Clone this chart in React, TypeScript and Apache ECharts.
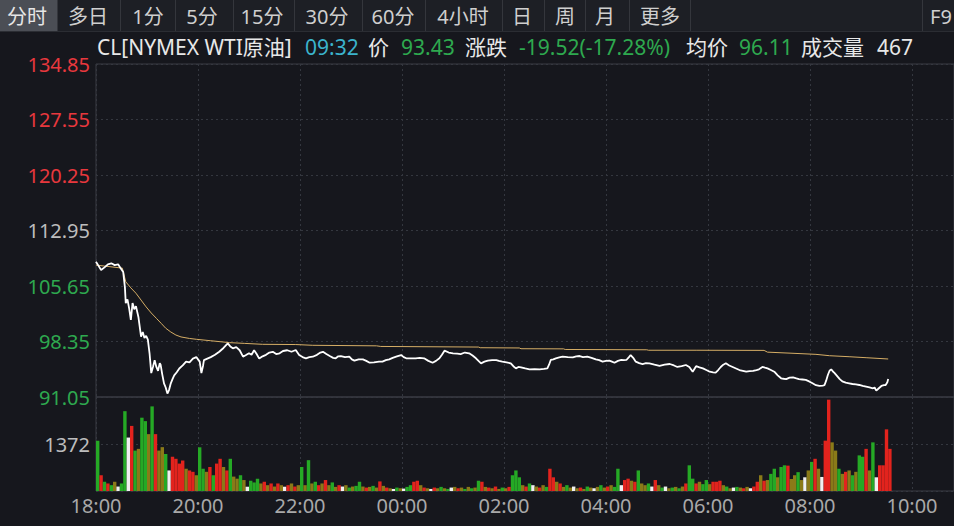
import React, { useEffect, useRef } from "react";
import * as echarts from "echarts";

// ---- data ----
// minutes after 18:00 for the last-price line
const priceMinutes = [
  0, 3, 6, 10, 14, 18, 22, 26, 29, 32, 34, 35, 37, 39, 41, 43, 45, 47, 50, 53, 55, 57, 59, 61, 63, 65, 67, 69, 71, 73,
  75, 76, 78, 80, 82, 84, 86, 88, 90, 92, 95, 98, 102, 106, 110, 114, 118, 120, 122, 124, 126, 127, 131, 135, 140, 145,
  150, 155, 158, 161, 165, 169, 173, 177, 180, 183, 186, 189, 192, 196, 200, 204, 208, 212, 216, 220, 225, 230, 235,
  239, 243, 247, 251, 255, 260, 264, 267, 271, 275, 279, 282, 285, 288, 293, 298, 301, 304, 309, 314, 318, 322, 327,
  333, 337, 341, 345, 349, 354, 359, 362, 365, 370, 376, 381, 386, 391, 396, 400, 404, 407, 410, 415, 420, 425, 429,
  434, 439, 443, 447, 450, 453, 457, 461, 466, 471, 474, 478, 483, 488, 491, 494, 497, 500, 505, 510, 516, 522, 527,
  531, 533, 535, 538, 541, 545, 549, 555, 561, 565, 569, 573, 578, 583, 588, 592, 596, 600, 604, 607, 610, 614, 618,
  621, 624, 627, 629, 632, 635, 639, 643, 647, 651, 657, 663, 669, 675, 680, 684, 689, 694, 698, 702, 706, 710, 714,
  718, 722, 726, 729, 732, 735, 738, 741, 745, 749, 753, 757, 761, 765, 769, 773, 777, 780, 784, 787, 790, 794, 798,
  802, 806, 809, 812, 816, 820, 824, 827, 831, 835, 839, 843, 847, 851, 855, 857, 859, 861, 863, 865, 867, 869, 872,
  875, 878, 882, 886, 890, 894, 898, 902, 906, 910, 914, 916, 918, 921, 924, 927, 929, 931, 932,
];
const prices = [
  108.85, 108.3, 107.75, 108.1, 108.5, 108.64, 108.4, 108.5, 108.0, 107.5, 105.5, 103.4, 103.9, 102.7, 101.2, 103.4,
  102.6, 103.0, 101.5, 98.98, 99.6, 98.8, 99.1, 98.6, 96.8, 94.2, 95.0, 95.9, 95.0, 94.5,
  95.5, 95.3, 94.0, 92.85, 92.3, 91.5, 92.0, 92.85, 93.4, 93.9, 94.3, 94.8, 95.2, 95.7, 95.6, 96.1, 96.3, 96.0, 95.7,
  94.2, 95.2, 95.9, 96.1, 96.3, 96.6, 97.0,
  97.5, 98.1, 97.7, 97.45, 97.6, 97.2, 96.35, 96.6, 96.8, 96.6, 97.2, 96.7, 96.1, 96.4, 96.6, 96.9, 97.0, 96.7, 96.8,
  97.1, 97.2, 97.0, 97.23,
  96.57, 96.3, 96.14, 96.3, 96.35, 96.6, 96.9, 97.0, 96.7, 96.44, 96.2, 96.14, 96.4, 96.44, 96.3, 96.35, 96.0, 95.83,
  96.0, 96.0, 95.8, 95.56, 95.6,
  95.7, 95.7, 95.9, 96.0, 96.2, 96.4, 96.57, 96.3, 96.14, 96.14, 96.14, 96.2, 96.14, 95.8, 95.56, 95.8, 96.14, 96.6,
  97.14, 96.9, 96.8, 96.75, 96.7,
  96.9, 96.8, 96.5, 96.14, 95.8, 95.48, 95.7, 95.83, 95.9, 95.9, 95.8, 95.7, 95.6, 95.48, 95.1, 94.82, 95.0, 94.95,
  94.8, 94.69, 94.7, 94.69, 94.75,
  94.82, 95.3, 95.92, 96.0, 96.14, 96.25, 96.35, 96.3, 96.27, 96.4, 96.44, 96.3, 96.35, 96.2, 96.0, 95.9, 95.7, 95.8,
  95.83, 95.7, 95.56, 95.8, 95.92,
  95.9, 95.92, 96.3, 96.57, 96.2, 95.7, 95.5, 95.39, 95.5, 95.48, 95.3, 95.13, 95.3, 95.39, 95.2, 95.0, 95.1, 95.26,
  95.0, 94.38, 95.1, 94.95, 94.82,
  94.6, 94.38, 94.3, 94.25, 94.6, 95.0, 95.3, 95.48, 95.2, 95.0, 94.8, 94.6, 94.5, 94.38, 94.45, 94.5, 94.6, 94.69,
  95.0, 94.9, 94.82, 94.6, 94.38,
  93.9, 93.51, 93.45, 93.4, 93.6, 93.64, 93.5, 93.4, 93.35, 93.3, 93.1, 92.85, 92.6, 92.5, 92.55, 92.6, 93.2, 93.94,
  94.5, 94.69, 94.4, 94.2, 93.8,
  93.4, 93.1, 92.93, 92.85, 92.76, 92.7, 92.63, 92.5, 92.4, 92.3, 92.2, 92.3, 91.88, 92.2, 92.5, 92.6, 92.63, 93.0,
  93.43,
];

// average price line
const avgMinutes = [
  0, 31, 35, 41, 47, 53, 59, 65, 71, 77, 82, 88, 94, 100, 110, 118, 135, 157, 175, 196, 235, 255, 330, 335, 450, 452,
  498, 500, 550, 552, 648, 650, 706, 786, 790, 820, 847, 863, 886, 906, 932,
];
const avgPrices = [
  108.4, 108.0, 106.2, 105.4, 104.7, 103.8, 102.9, 102.1, 101.4, 100.7, 100.1, 99.6, 99.2, 98.95, 98.75, 98.64, 98.45,
  98.2, 98.1, 97.98, 97.95, 97.85, 97.78, 97.7, 97.62, 97.53, 97.5, 97.4, 97.38, 97.3, 97.26, 97.2, 97.2, 97.18, 96.95,
  96.8, 96.66, 96.48, 96.35, 96.22, 96.05,
];

// volume per 4-minute bucket from 18:00, and bar direction (r up, g down, o mixed, w flat)
const volumeBucketMinutes = 4;
const volumes = [
  1467, 460, 270, 220, 170, 270, 130, 220, 2330, 1560,
  1900, 1180, 1230, 2140, 2040, 1660, 2470, 1660, 1180, 1280,
  1080, 600, 1000, 940, 800, 890, 650, 600, 560, 460,
  1275, 650, 560, 700, 460, 800, 940, 700, 600, 940,
  420, 360, 460, 320, 125, 300, 250, 360, 220, 270,
  170, 220, 130, 220, 170, 125, 170, 220, 130, 170,
  700, 170, 900, 220, 270, 170, 220, 320, 170, 250,
  120, 170, 130, 170, 100, 130, 150, 270, 130, 100,
  120, 150, 100, 280, 150, 100, 80, 60, 100, 80,
  70, 120, 170, 270, 300, 170, 100, 80, 60, 100,
  80, 120, 80, 60, 100, 120, 80, 100, 60, 120,
  80, 100, 300, 270, 120, 100, 80, 130, 60, 100,
  80, 120, 460, 600, 400, 170, 130, 220, 170, 130,
  100, 170, 120, 650, 400, 270, 220, 120, 170, 100,
  130, 80, 100, 60, 130, 100, 80, 120, 170, 100,
  130, 170, 120, 650, 170, 320, 360, 300, 270, 600,
  220, 170, 220, 130, 320, 170, 100, 130, 80, 100,
  120, 80, 130, 220, 750, 360, 220, 270, 200, 320,
  200, 270, 270, 300, 170, 130, 80, 100, 120, 100,
  80, 120, 80, 130, 270, 460, 300, 320, 500, 650,
  400, 700, 750, 740, 350, 460, 550, 320, 400, 600,
  850, 940, 650, 410, 1470, 2666, 1420, 1180, 650, 500,
  560, 600, 460, 560, 1040, 1000, 1230, 600, 1420, 400,
  750, 750, 1800, 1230,
];
const volumeDirs =
  "grgrgowggw" + "rgoggogroo" + "gwrrrrorro" + "ggorgrrorg" + "oogowgggor" +
  "ororowroro" + "gogogrorog" + "orwogoggor" + "ogororowgo" + "wggrrorowr" +
  "ogogworogo" + "gogrororog" + "orgggorgwo" + "rogrrorogo" + "worogowogo" +
  "roggwrrorg" + "oogwrogwog" + "ogorggrogg" + "orrrogowgo" + "rowrrorogg" +
  "oggroogowo" + "growrroogo" + "rogoggrogw" + "rrrr";

const priceTicks = [91.05, 98.35, 105.65, 112.95, 120.25, 127.55, 134.85];
const prevClose = 112.95;
const volumeMax = 2744;
const volumeTick = 1372;
const startMinuteOfDay = 18 * 60;

const tabs = ["分时", "多日", "1分", "5分", "15分", "30分", "60分", "4小时", "日", "周", "月", "更多"];
const tabCenters = [27, 88, 148, 202, 262, 327, 393, 463, 522, 565, 605, 660];
const tabSeparators = [57, 120, 175, 233, 294, 362, 425, 502, 544, 585, 629, 690, 922];

const FONT = '"Noto Sans", "Noto Sans CJK SC", sans-serif';
const RED = "#e8383d";
const GREEN = "#2ea94f";

function fmtTime(m: number) {
  const t = (startMinuteOfDay + Math.round(m)) % 1440;
  const h = Math.floor(t / 60);
  const mm = t % 60;
  return `${String(h).padStart(2, "0")}:${String(mm).padStart(2, "0")}`;
}

export default function App() {
  const ref = useRef<HTMLDivElement>(null);
  useEffect(() => {
    if (!ref.current) return;
    const chart = echarts.init(ref.current, undefined, { renderer: "svg" });
    const W = 954;
    const plotLeft = 96;
    const pxPerMin = 0.85;
    const xMax = (W - plotLeft) / pxPerMin;

    const barColors: Record<string, string> = { r: "#e2231d", g: "#25a925", o: "#8a7a18", w: "#f0f0f0" };
    const volData = volumes.map((v, i) => ({
      value: [i * volumeBucketMinutes + 2, v],
      itemStyle: { color: barColors[volumeDirs[i]] || barColors.o },
    }));

    const dotted = { color: "#34373f", width: 1, type: [2, 3] as any };

    const graphics: any[] = [
      { type: "rect", shape: { x: 0, y: 0, width: W, height: 31 }, style: { fill: "#1d1f25" }, silent: true },
      { type: "rect", shape: { x: 0, y: 0, width: 57, height: 31 }, style: { fill: "#4b4e55" }, silent: true },
      { type: "line", shape: { x1: 0, y1: 31.5, x2: W, y2: 31.5 }, style: { stroke: "#2b2d33", lineWidth: 1 } },
    ];
    tabSeparators.forEach((x) => {
      graphics.push({ type: "line", shape: { x1: x + 0.5, y1: 0, x2: x + 0.5, y2: 31 }, style: { stroke: "#34363c", lineWidth: 1 } });
    });
    tabs.forEach((t, i) => {
      graphics.push({
        type: "text",
        x: tabCenters[i],
        y: 16,
        style: { text: t, fill: i === 0 ? "#e6e6e6" : "#cfcfcf", font: `20px ${FONT}`, align: "center", verticalAlign: "middle" },
      });
    });
    graphics.push({
      type: "text",
      x: 941,
      y: 16,
      style: { text: "F9", fill: "#cfcfcf", font: `20px ${FONT}`, align: "center", verticalAlign: "middle" },
    });
    const info: [string, number, string][] = [
      ["CL[NYMEX WTI原油]", 97, "#e8e8e8"],
      ["09:32", 305, "#3bb3cc"],
      ["价", 368, "#e8e8e8"],
      ["93.43", 401, GREEN],
      ["涨跌", 465, "#e8e8e8"],
      ["-19.52(-17.28%)", 519, GREEN],
      ["均价", 686, "#e8e8e8"],
      ["96.11", 739, GREEN],
      ["成交量", 801, "#e8e8e8"],
      ["467", 877, "#e8e8e8"],
    ];
    info.forEach(([t, x, c]) => {
      graphics.push({
        type: "text",
        x,
        y: 47,
        style: { text: t, fill: c, font: `21px ${FONT}`, align: "left", verticalAlign: "middle" },
      });
    });

    chart.setOption({
      animation: false,
      backgroundColor: "#16171d",
      grid: [
        { left: plotLeft, top: 64, width: W - plotLeft, height: 333, show: true, borderColor: "#3b3d44", borderWidth: 1, backgroundColor: "transparent" },
        { left: plotLeft, top: 397, width: W - plotLeft, height: 94, show: true, borderColor: "#3b3d44", borderWidth: 1, backgroundColor: "transparent" },
      ],
      xAxis: [
        {
          type: "value", gridIndex: 0, min: 0, max: xMax, interval: 120,
          axisLine: { show: false }, axisTick: { show: false }, axisLabel: { show: false },
          splitLine: { show: true, lineStyle: dotted },
        },
        {
          type: "value", gridIndex: 1, min: 0, max: xMax, interval: 120,
          axisLine: { show: false }, axisTick: { show: false },
          axisLabel: {
            show: true, color: "#a9a9a9", fontSize: 20, fontFamily: FONT, margin: 4,
            showMaxLabel: false, formatter: (v: number) => fmtTime(v),
          },
          splitLine: { show: true, lineStyle: dotted },
        },
      ],
      yAxis: [
        {
          type: "value", gridIndex: 0, min: priceTicks[0], max: priceTicks[priceTicks.length - 1],
          axisLine: { show: false },
          axisTick: { show: false, customValues: priceTicks },
          axisLabel: {
            customValues: priceTicks, fontSize: 20, fontFamily: FONT, margin: 6,
            formatter: (v: number) => Number(v).toFixed(2),
            color: (v: any) => {
              const n = Number(v);
              if (Math.abs(n - prevClose) < 0.001) return "#bdbdbd";
              return n > prevClose ? RED : GREEN;
            },
          },
          splitLine: { show: true, lineStyle: dotted },
        },
        {
          type: "value", gridIndex: 1, min: 0, max: volumeMax, interval: volumeTick,
          axisLine: { show: false }, axisTick: { show: false },
          axisLabel: {
            fontSize: 20, fontFamily: FONT, margin: 6, color: "#bdbdbd",
            formatter: (v: number) => (v === volumeTick ? String(volumeTick) : ""),
          },
          splitLine: { show: true, lineStyle: dotted },
        },
      ],
      series: [
        {
          type: "bar", xAxisIndex: 1, yAxisIndex: 1, barWidth: 3.4, data: volData, silent: true,
        },
        {
          type: "line", xAxisIndex: 0, yAxisIndex: 0, showSymbol: false, silent: true,
          data: avgMinutes.map((m, i) => [m, avgPrices[i]]),
          lineStyle: { color: "#d6ae66", width: 1 },
        },
        {
          type: "line", xAxisIndex: 0, yAxisIndex: 0, showSymbol: false, silent: true,
          data: priceMinutes.map((m, i) => [m, prices[i]]),
          lineStyle: { color: "#ffffff", width: 1.8 },
        },
      ],
      graphic: graphics,
    });
    return () => chart.dispose();
  }, []);
  return (
    <div
      ref={ref}
      style={{ position: "fixed", left: 0, top: 0, width: 954, height: 526, background: "#16171d" }}
    />
  );
}
